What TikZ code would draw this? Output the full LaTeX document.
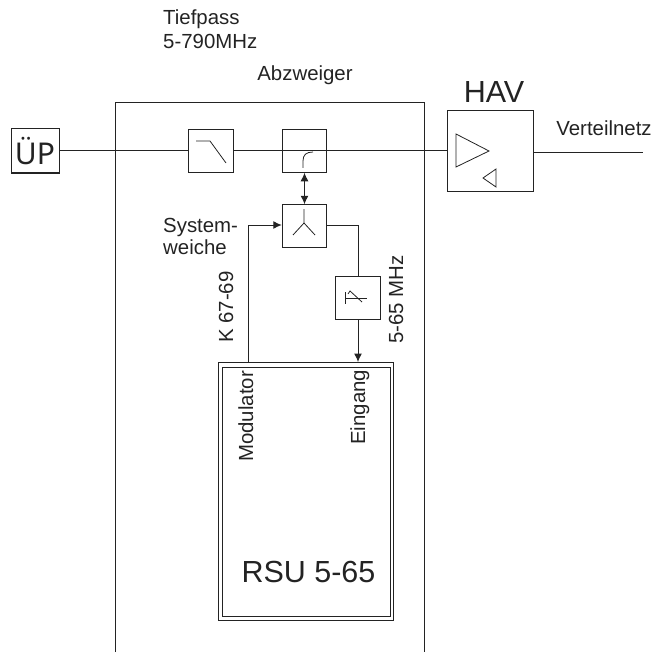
\documentclass[tikz,border=0pt]{standalone}
\usepackage{fontspec}
\setmainfont{Liberation Sans}
\usetikzlibrary{arrows.meta}
\definecolor{linegray}{RGB}{35, 35, 35}
\tikzset{
  block/.style={draw=linegray, line width=1pt, inner sep=0pt, minimum width=44.5pt, minimum height=42.5pt},
  wire/.style={draw=linegray, line width=1pt},
  icon/.style={draw=linegray, line width=0.8pt},
  arrowtip/.style={-{Latex[length=8.5pt,width=8pt]}},
  bothtips/.style={{Latex[length=8.5pt,width=8pt]}-{Latex[length=8.5pt,width=8pt]}},
  label/.style={inner sep=0pt, font=\fontsize{20.4}{23}\selectfont, text=linegray},
  biglabel/.style={inner sep=0pt, font=\fontsize{30.5}{34}\selectfont, text=linegray}
}

\begin{document}
\begin{tikzpicture}[x=1pt, y=-1pt]
  \useasboundingbox (0,0) rectangle (654,655);
  % Abzweiger housing, open at the bottom
  \draw[wire] (115,652) -- (115,103) -- (424.5,103) -- (424.5,652);

  \node[block, minimum width=48pt, minimum height=44pt] (UP) at (35,151) {};
  \node[font=\fontsize{30}{34}\selectfont, inner sep=0pt, text=linegray] (UPtext) at (35,151) {\fontspec{Noto Sans}ÜP};
  \node[block] (TP) at (211,151) {};
  \node[block] (AB) at (304.5,151) {};
  \node[block] (SW) at (304.5,226) {};
  \node[block] (BP) at (358,298) {};
  \node[block, minimum width=86pt, minimum height=80pt] (HAV) at (490,151) {};
  \node[draw=linegray, line width=1pt, inner sep=0pt, minimum width=175pt, minimum height=258pt] (RSU) at (305.5,491) {};
  \node[draw=linegray, line width=1pt, inner sep=0pt, minimum width=168pt, minimum height=249pt] (RSUin) at (306,491.5) {};

  \coordinate (out) at (643,153);
  \coordinate (modin) at (248,225);
  \coordinate (modout) at (248,362);
  \coordinate (bpin) at (358,225);
  \coordinate (bpout) at (358,362);

  \draw[wire] (UP.east) -- (TP.west);
  \draw[wire] (TP.east) -- (HAV.west);
  \draw[wire] (HAV.east |- out) -- (out);
  \draw[wire, bothtips] (AB.south) -- (SW.north);
  \draw[wire, arrowtip] (modout) -- (modin) -- (SW.west |- modin);
  \draw[wire] (SW.east |- bpin) -- (bpin) -- (BP.north);
  \draw[wire, arrowtip] (BP.south) -- (bpout);

  % symbols inside the blocks
  \draw[icon] (196,141) -- (210,141) -- (226,163);
  \draw[icon] (303,168) -- (303,161) .. controls (303,155) and (306,152) .. (313,152);
  \draw[icon] (304,209) -- (304,223) -- (293,235);
  \draw[icon] (304,223) -- (315,235);
  \draw[icon] (345,298) -- (367,298);
  \draw[icon] (345,292) -- (345,304);
  \draw[icon] (348,294) -- (350,291) -- (362,302);
  \draw[icon] (456,134) -- (456,167) -- (489,151) -- cycle;
  \draw[icon] (496,169) -- (496,187) -- (483,178) -- cycle;

  \node[label, anchor=base west] (TPname) at (163,25) {Tiefpass};
  \node[label, anchor=base west] (TPband) at (163,49) {5-790MHz};
  \node[label, anchor=base] (ABname) at (305,81) {Abzweiger};
  \node[biglabel, anchor=base] (HAVname) at (494,103) {HAV};
  \node[label, anchor=base] (NET) at (604,136) {Verteilnetz};
  \node[label, anchor=base west] (SWa) at (163,232) {System-};
  \node[label, anchor=base west] (SWb) at (163,254) {weiche};
  \node[label, rotate=90, anchor=base west] (KAN) at (233,343) {K 67-69};
  \node[label, rotate=90, anchor=base west] (BAND) at (403,344) {5-65 MHz};
  \node[label, rotate=90, anchor=base west] (MOD) at (253,462) {Modulator};
  \node[label, rotate=90, anchor=base west] (EIN) at (365,445) {Eingang};
  \node[biglabel, anchor=base] (RSUname) at (308.5,582) {RSU 5-65};
\end{tikzpicture}
\end{document}
